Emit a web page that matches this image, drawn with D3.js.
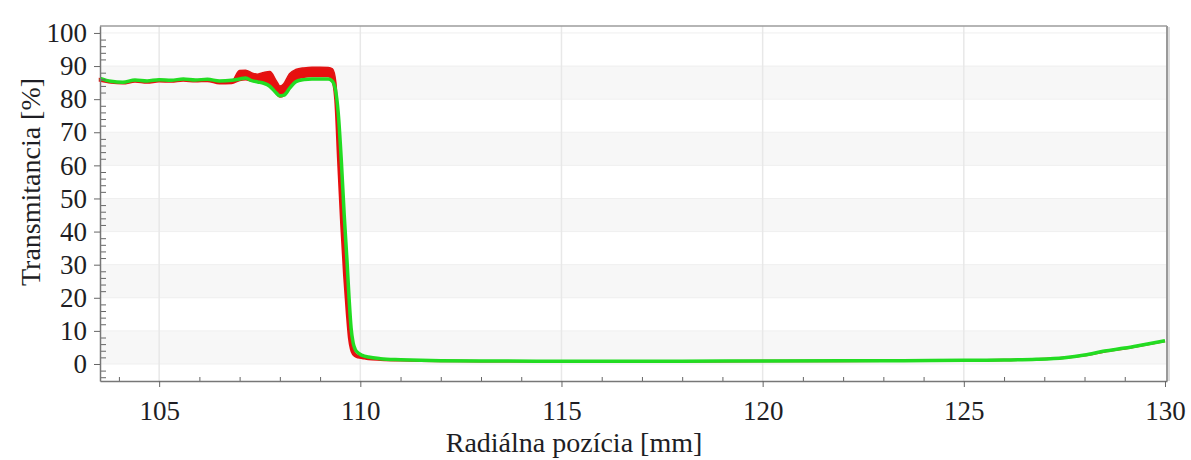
<!DOCTYPE html>
<html>
<head>
<meta charset="utf-8">
<script src="https://cdn.jsdelivr.net/npm/d3@7"></script>
<style>
    body { margin: 0; background: #fff; }
    svg text { font-family: "Liberation Serif", "Times New Roman", serif; fill: #1e1e24; }
</style>
</head>
<body>
<svg id="drawing_region"></svg>
<script>
// radial position [mm]
const positions = [
    103.53, 103.8, 104.1, 104.4, 104.7, 105.0, 105.3, 105.6, 105.9, 106.2,
    106.5, 106.8, 107.0, 107.15, 107.3, 107.45, 107.6, 107.75, 107.9, 108.0,
    108.1, 108.25, 108.4, 108.6, 108.8, 109.0, 109.2, 109.3, 109.38, 109.45,
    109.53, 109.6, 109.67, 109.72, 109.77, 109.82, 109.87, 109.95, 110.05, 110.2,
    110.5, 111.0, 111.5, 112.0, 113.0, 114.5, 116.0, 118.0, 120.0, 122.0,
    123.5, 125.0, 126.0, 126.8, 127.5, 128.0, 128.5, 129.0, 129.5, 130.0
];

// transmittance [%] - green measurement
const greenValues = [
    86.3, 85.4, 85.1, 85.8, 85.5, 85.9, 85.7, 86.1, 85.8, 86.0,
    85.5, 85.7, 86.1, 86.4, 85.6, 85.2, 84.8, 83.9, 82.0, 81.0,
    81.2, 83.4, 85.3, 85.9, 86.1, 86.1, 86.1, 85.5, 83.0, 76.0,
    61.0, 45.0, 31.0, 20.0, 11.0, 6.5, 4.5, 3.3, 2.6, 2.1,
    1.6, 1.3, 1.1, 1.0, 0.9, 0.85, 0.85, 0.85, 0.9, 0.95,
    1.0, 1.1, 1.2, 1.4, 1.9, 2.7, 3.9, 4.8, 5.9, 7.0
];

// transmittance [%] - red measurements, upper and lower edge of the bundle
const redUpper = [
    86.0, 85.3, 85.0, 85.6, 85.4, 85.8, 85.6, 85.9, 85.7, 85.9,
    85.2, 85.0, 88.5, 88.6, 87.8, 87.4, 87.9, 88.2, 85.5, 83.8,
    84.5, 87.6, 88.8, 89.3, 89.5, 89.5, 89.4, 89.0, 85.0, 70.0,
    50.0, 34.0, 21.0, 12.0, 6.5, 4.0, 3.0, 2.4, 2.0, 1.7,
    1.4, 1.2, 1.0, 0.9, 0.85, 0.8, 0.8, 0.8, 0.9, 0.9,
    1.0, 1.1, 1.2, 1.4, 1.9, 2.6, 3.8, 4.7, 5.8, 6.9
];
const redLower = [
    85.6, 85.0, 84.8, 85.3, 85.0, 85.4, 85.3, 85.6, 85.4, 85.5,
    84.8, 84.9, 85.8, 86.0, 85.6, 85.4, 85.0, 84.2, 82.0, 80.8,
    81.2, 84.0, 86.0, 86.8, 87.0, 87.0, 87.0, 86.0, 80.0, 62.0,
    42.0, 27.0, 15.0, 8.0, 4.5, 3.0, 2.4, 2.0, 1.8, 1.5,
    1.3, 1.1, 1.0, 0.9, 0.85, 0.8, 0.8, 0.8, 0.9, 0.9,
    1.0, 1.1, 1.2, 1.4, 1.9, 2.6, 3.8, 4.7, 5.8, 6.9
];

const xTickValues = [105, 110, 115, 120, 125, 130];
const yTickValues = [0, 10, 20, 30, 40, 50, 60, 70, 80, 90, 100];
const shadedBands = [[0, 10], [20, 30], [40, 50], [60, 70], [80, 90]];

class TransmittanceChart {
    constructor (config, data) {
        this.config = {
            parent: config.parent,
            width: config.width || 256,
            height: config.height || 256,
            margin: config.margin || {top:10, right:10, bottom:10, left:10},
            xlabel: config.xlabel || '',
            ylabel: config.ylabel || ''
        };
        this.data = data;
        this.init();
    }

    init() {
        let self = this;

        self.svg = d3.select( self.config.parent )
            .attr('width', self.config.width)
            .attr('height', self.config.height);

        self.chart = self.svg.append('g')
            .attr('transform', `translate(${self.config.margin.left}, ${self.config.margin.top})`);

        self.inner_width = self.config.width - self.config.margin.left - self.config.margin.right;
        self.inner_height = self.config.height - self.config.margin.top - self.config.margin.bottom;

        self.xscale = d3.scaleLinear()
            .domain([103.53, 130.05])
            .range([0, self.inner_width]);

        self.yscale = d3.scaleLinear()
            .domain([-5.14, 102.1])
            .range([self.inner_height, 0]);

        // zebra bands + grid
        self.chart.selectAll('.band')
            .data(shadedBands)
            .enter()
            .append('rect')
            .attr('class', 'band')
            .attr('x', 0)
            .attr('width', self.inner_width)
            .attr('y', d => self.yscale(d[1]))
            .attr('height', d => self.yscale(d[0]) - self.yscale(d[1]))
            .style('fill', '#f7f7f7');

        self.chart.selectAll('.hgrid')
            .data(yTickValues)
            .enter()
            .append('line')
            .attr('class', 'hgrid')
            .attr('x1', 0).attr('x2', self.inner_width)
            .attr('y1', d => self.yscale(d)).attr('y2', d => self.yscale(d))
            .style('stroke', '#efefef');

        self.chart.selectAll('.vgrid')
            .data(xTickValues.slice(0, -1))
            .enter()
            .append('line')
            .attr('class', 'vgrid')
            .attr('x1', d => self.xscale(d)).attr('x2', d => self.xscale(d))
            .attr('y1', 0).attr('y2', self.inner_height)
            .style('stroke', '#e8e8e8')
            .style('stroke-width', 1.5);

        self.plot = self.chart.append('g');

        // frame
        self.chart.append('line')
            .attr('x1', 0).attr('x2', self.inner_width)
            .attr('y1', 0).attr('y2', 0)
            .style('stroke', '#9c9c9c').style('stroke-width', 1.5);
        self.chart.append('line')
            .attr('x1', self.inner_width + 2).attr('x2', self.inner_width + 2)
            .attr('y1', 1).attr('y2', self.inner_height)
            .style('stroke', '#dcdcdc').style('stroke-width', 2);
        self.chart.append('line')
            .attr('x1', self.inner_width).attr('x2', self.inner_width)
            .attr('y1', 0).attr('y2', self.inner_height)
            .style('stroke', '#9a9a9a').style('stroke-width', 2);

        // axes
        self.yaxis = d3.axisLeft( self.yscale )
            .tickValues(yTickValues)
            .tickSizeInner(6)
            .tickSizeOuter(0)
            .tickPadding(7);
        self.yminor = d3.axisRight( self.yscale )
            .tickValues(d3.range(-4, 101, 2).filter(v => v % 10 !== 0))
            .tickSize(6)
            .tickFormat('');
        self.xaxis = d3.axisBottom( self.xscale )
            .tickValues(xTickValues)
            .tickSizeInner(6)
            .tickSizeOuter(0)
            .tickPadding(14);
        self.xminor = d3.axisTop( self.xscale )
            .tickValues(d3.range(104, 130, 1).filter(v => v % 5 !== 0))
            .tickSize(4)
            .tickFormat('');

        self.yminor_group = self.chart.append('g');
        self.xminor_group = self.chart.append('g')
            .attr('transform', `translate(0, ${self.inner_height})`);
        self.yaxis_group = self.chart.append('g');
        self.xaxis_group = self.chart.append('g')
            .attr('transform', `translate(0, ${self.inner_height})`);

        self.svg.append('text')
            .style('font-size', '28px')
            .attr('text-anchor', 'middle')
            .attr('x', 574)
            .attr('y', 452)
            .text( self.config.xlabel );

        self.svg.append('text')
            .style('font-size', '28px')
            .attr('transform', `rotate(-90)`)
            .attr('x', -182)
            .attr('y', 40)
            .attr('text-anchor', 'middle')
            .text( self.config.ylabel );
    }

    render() {
        let self = this;

        const redArea = d3.area()
            .x(d => self.xscale(d.x))
            .y0(d => self.yscale(d.lo))
            .y1(d => self.yscale(d.hi))
            .curve(d3.curveMonotoneX);

        const line = d3.line()
            .x(d => self.xscale(d.x))
            .y(d => self.yscale(d.y))
            .curve(d3.curveMonotoneX);

        self.plot.append('path')
            .datum(self.data.red)
            .attr('d', redArea)
            .style('fill', '#e80f0f')
            .style('stroke', '#e80f0f')
            .style('stroke-width', 2.5);

        self.plot.append('path')
            .datum(self.data.red.map(d => ({x: d.x, y: d.hi})))
            .attr('d', line)
            .style('fill', 'none')
            .style('stroke', '#d42020')
            .style('stroke-opacity', 0.5)
            .style('stroke-width', 1.2);

        self.plot.append('path')
            .datum(self.data.green)
            .attr('d', line)
            .style('fill', 'none')
            .style('stroke', '#22dc22')
            .style('stroke-width', 3.5)
            .style('stroke-linejoin', 'round');

        self.yminor_group.call( self.yminor );
        self.xminor_group.call( self.xminor );
        self.yaxis_group.call( self.yaxis );
        self.xaxis_group.call( self.xaxis );

        [self.yminor_group, self.xminor_group].forEach(g => g.select('.domain').remove());
        self.chart.selectAll('.tick line').style('stroke', '#666');
        self.chart.selectAll('.domain').style('stroke', '#777').style('stroke-width', 1.5);
        self.chart.selectAll('.tick text')
            .style('font-size', '27px')
            .style('font-family', '"Liberation Serif", "Times New Roman", serif');
    }
}

const chartData = {
    green: positions.map((x, i) => ({x: x, y: greenValues[i]})),
    red: positions.map((x, i) => ({x: x, hi: redUpper[i], lo: redLower[i]}))
};

let chart = new TransmittanceChart({
    parent: '#drawing_region',
    width: 1191,
    height: 460,
    margin: {top:26, right:24, bottom:79, left:100},
    xlabel: 'Radiálna pozícia [mm]',
    ylabel: 'Transmitancia [%]'
}, chartData);
chart.render();
</script>
</body>
</html>
